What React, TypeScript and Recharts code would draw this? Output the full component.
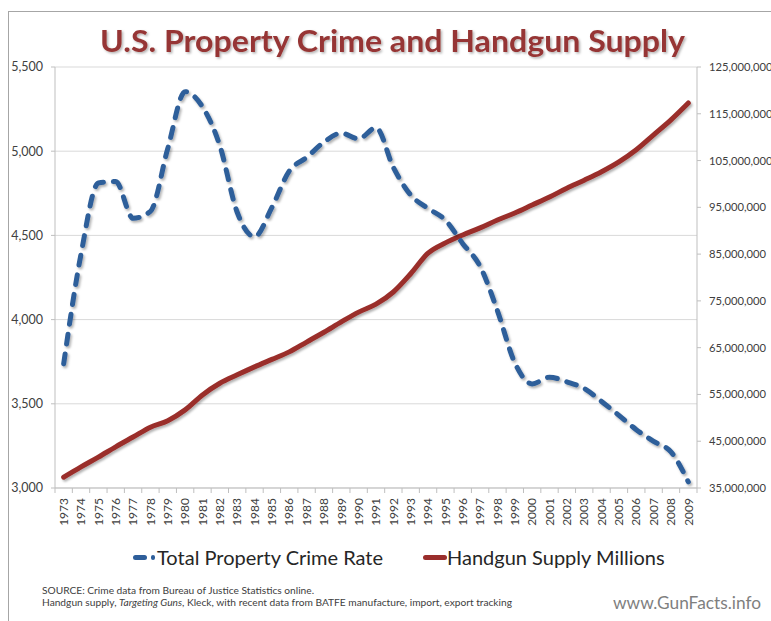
import React from 'react';
import { LineChart, Line, XAxis, YAxis, CartesianGrid } from 'recharts';

const years = [
  '1973', '1974', '1975', '1976', '1977', '1978', '1979', '1980', '1981', '1982',
  '1983', '1984', '1985', '1986', '1987', '1988', '1989', '1990', '1991', '1992',
  '1993', '1994', '1995', '1996', '1997', '1998', '1999', '2000', '2001', '2002',
  '2003', '2004', '2005', '2006', '2007', '2008', '2009',
];

const crimeRate = [
  3737.0, 4389.3, 4810.7, 4819.5, 4601.7, 4642.5, 5016.6, 5353.3, 5263.9, 5032.5,
  4637.4, 4492.1, 4666.4, 4881.8, 4963.0, 5054.0, 5107.1, 5073.1, 5140.2, 4903.7,
  4740.0, 4660.2, 4590.5, 4451.0, 4316.3, 4052.5, 3743.6, 3618.3, 3658.1, 3630.6,
  3591.2, 3514.1, 3431.5, 3346.6, 3276.4, 3214.6, 3036.1,
];

const handgunSupply = [
  37300000, 39500000, 41600000, 43800000, 45900000, 48000000, 49400000, 51700000, 54900000, 57400000,
  59200000, 60900000, 62500000, 64100000, 66200000, 68300000, 70500000, 72600000, 74300000, 76900000,
  80800000, 85200000, 87400000, 89100000, 90600000, 92300000, 93800000, 95500000, 97200000, 99100000,
  100800000, 102600000, 104700000, 107300000, 110500000, 113700000, 117300000,
];

const leftTicks = [3000, 3500, 4000, 4500, 5000, 5500];
const rightTicks = [
  35000000, 45000000, 55000000, 65000000, 75000000, 85000000, 95000000, 105000000, 115000000, 125000000,
];

const titleText = 'U.S. Property Crime and Handgun Supply';
const crimeLabel = 'Total Property Crime Rate';
const gunLabel = 'Handgun Supply Millions';

const data = years.map((year, i) => ({ year, crime: crimeRate[i], handguns: handgunSupply[i] }));

const W = 771;
const H = 621;
const PLOT_LEFT = 55;
const PLOT_RIGHT = 697;
const PLOT_TOP = 67;
const PLOT_BOTTOM = 488;
const X_AXIS_H = 40;
const STEP = (PLOT_RIGHT - PLOT_LEFT) / years.length;

const FONT = 'Lato, "Open Sans", sans-serif';
const BLUE = '#2E5E9A';
const RED = '#9A2E2C';
const AXIS = '#bfbfbf';
const GRID = '#d9d9d9';
const TEXT = '#404040';

const fmt = (v: number) => v.toLocaleString('en-US');

function XTick(props: any) {
  const { x, y, payload, index } = props;
  const isLast = index === years.length - 1;
  return (
    <g>
      <line x1={x - STEP / 2} x2={x - STEP / 2} y1={y} y2={y + 5} stroke={AXIS} strokeWidth={1} />
      {isLast && <line x1={x + STEP / 2} x2={x + STEP / 2} y1={y} y2={y + 5} stroke={AXIS} strokeWidth={1} />}
      <text
        transform={`translate(${x},${y + 10}) rotate(-90)`}
        textAnchor="end"
        dy="0.35em"
        fontSize={12}
        fill={TEXT}
        fontFamily={FONT}
      >
        {payload.value}
      </text>
    </g>
  );
}

export default function App() {
  return (
    <div style={{ position: 'absolute', left: 0, top: 0, width: W, height: H, background: '#fff', overflow: 'hidden', fontFamily: FONT }}>
      <svg width={0} height={0} style={{ position: 'absolute' }}>
        <defs>
          <filter id="lineShadow" x="-5%" y="-5%" width="110%" height="115%">
            <feDropShadow dx={1.5} dy={2} stdDeviation={1.2} floodColor="#000" floodOpacity={0.3} />
          </filter>
          <filter id="titleShadow" x="-5%" y="-20%" width="110%" height="150%">
            <feDropShadow dx={1.5} dy={1.5} stdDeviation={1} floodColor="#000" floodOpacity={0.3} />
          </filter>
        </defs>
      </svg>
      <div style={{ position: 'absolute', left: 8, top: 11, width: W, height: H, borderLeft: '1px solid #a6a6a6', borderTop: '1px solid #a6a6a6' }} />
      <svg width={W} height={70} style={{ position: 'absolute', left: 0, top: 0 }}>
        <text
          x={100}
          y={52}
          textLength={585}
          lengthAdjust="spacingAndGlyphs"
          fontFamily={FONT}
          fontWeight={700}
          fontSize={31}
          fill="#963634"
          filter="url(#titleShadow)"
        >
          {titleText}
        </text>
      </svg>
      <div style={{ position: 'absolute', left: 0, top: 0 }}>
        <LineChart
          width={W}
          height={PLOT_BOTTOM + X_AXIS_H}
          data={data}
          margin={{ top: PLOT_TOP, right: 0, bottom: 0, left: 0 }}
        >
          <CartesianGrid yAxisId="left" vertical={false} stroke={GRID} strokeWidth={1} />
          <XAxis
            dataKey="year"
            interval={0}
            height={X_AXIS_H}
            padding={{ left: STEP / 2, right: STEP / 2 }}
            stroke={AXIS}
            tickLine={false}
            tickSize={0}
            tickMargin={0}
            tick={<XTick />}
          />
          <YAxis
            yAxisId="left"
            orientation="left"
            width={PLOT_LEFT}
            domain={[3000, 5500]}
            ticks={leftTicks}
            tickFormatter={fmt}
            stroke={AXIS}
            tickSize={4}
            tickMargin={8}
            tick={{ fill: TEXT, fontSize: 12.5, fontFamily: FONT }}
            allowDataOverflow
          />
          <YAxis
            yAxisId="right"
            orientation="right"
            width={W - PLOT_RIGHT}
            domain={[35000000, 125000000]}
            ticks={rightTicks}
            tickFormatter={fmt}
            stroke={AXIS}
            tickSize={4}
            tickMargin={8}
            tick={{ fill: TEXT, fontSize: 11.2, fontFamily: FONT, textAnchor: 'start' }}
            allowDataOverflow
          />
          <Line
            yAxisId="right"
            type="monotone"
            dataKey="handguns"
            stroke={RED}
            strokeWidth={5}
            strokeLinecap="round"
            dot={false}
            activeDot={false}
            filter="url(#lineShadow)"
            isAnimationActive={false}
          />
          <Line
            yAxisId="left"
            type="monotone"
            dataKey="crime"
            stroke={BLUE}
            strokeWidth={5}
            strokeDasharray="10 10"
            strokeLinecap="round"
            dot={false}
            activeDot={false}
            filter="url(#lineShadow)"
            isAnimationActive={false}
          />
        </LineChart>
      </div>
      {/* legend */}
      <div style={{ position: 'absolute', left: 133, top: 555, width: 14, height: 5, borderRadius: 2.5, background: BLUE }} />
      <div style={{ position: 'absolute', left: 151, top: 555, width: 4, height: 5, borderRadius: 2.5, background: BLUE }} />
      <div style={{ position: 'absolute', left: 157, top: 545, height: 24, lineHeight: '24px', fontSize: 20, color: '#262626', whiteSpace: 'nowrap' }}>
        {crimeLabel}
      </div>
      <div style={{ position: 'absolute', left: 423, top: 555, width: 24, height: 5, borderRadius: 2.5, background: RED }} />
      <div style={{ position: 'absolute', left: 447, top: 545, height: 24, lineHeight: '24px', fontSize: 20, color: '#262626', whiteSpace: 'nowrap' }}>
        {gunLabel}
      </div>
      {/* source */}
      <div style={{ position: 'absolute', left: 42, top: 584, fontSize: 10.2, lineHeight: '12px', color: TEXT, whiteSpace: 'nowrap' }}>
        <div>SOURCE: Crime data from Bureau of Justice Statistics online.</div>
        <div>
          Handgun supply, <i>Targeting Guns</i>, Kleck, with recent data from BATFE manufacture, import, export tracking
        </div>
      </div>
      <div style={{ position: 'absolute', left: 613, top: 592, fontSize: 17.3, lineHeight: '22px', color: '#7f7f7f', whiteSpace: 'nowrap' }}>
        www.GunFacts.info
      </div>
    </div>
  );
}
